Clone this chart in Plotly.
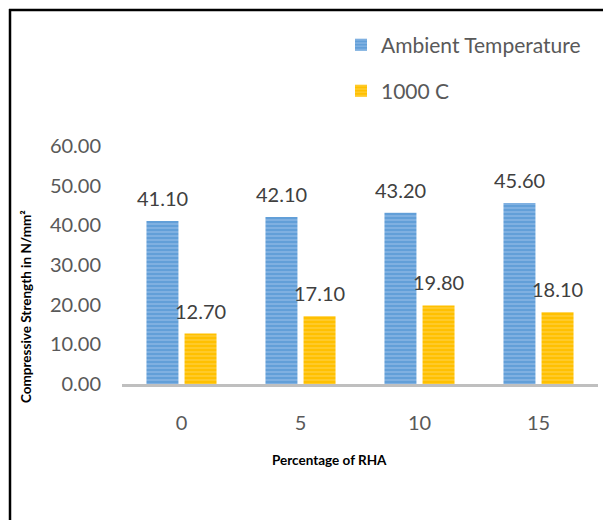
import plotly.graph_objects as go

categories = ["0", "5", "10", "15"]
ambient = [41.10, 42.10, 43.20, 45.60]
heated = [12.70, 17.10, 19.80, 18.10]
series_names = ["Ambient Temperature", "1000 C"]
y_ticks = [0, 10, 20, 30, 40, 50, 60]
y_tick_text = ["0.00", "10.00", "20.00", "30.00", "40.00", "50.00", "60.00"]

W, H = 603, 520
L, R, T, B = 122, 5, 146, 136
pw, ph = W - L - R, H - T - B

def px_x(x):
    return (x - L) / pw

def px_y(y):
    return (H - B - y) / ph

font_main = "Lato, 'Open Sans', sans-serif"
label_font = dict(size=20, color="#404040", family=font_main)

fig = go.Figure()
fig.add_trace(go.Bar(
    x=categories, y=ambient, name=series_names[0],
    marker=dict(color="#6FA6DE", line=dict(width=0),
                pattern=dict(shape="-", fgcolor="#A9CBEE", bgcolor="#629FD8", size=4, solidity=0.4)),
    legend="legend",
))
fig.add_trace(go.Bar(
    x=categories, y=heated, name=series_names[1],
    marker=dict(color="#FFC000", line=dict(width=0),
                pattern=dict(shape="-", fgcolor="#FFD966", bgcolor="#FFC000", size=4, solidity=0.4)),
    legend="legend2",
))

annotations = []
for series, shift in ((ambient, -19), (heated, 19)):
    for i, v in enumerate(series):
        annotations.append(dict(x=i, y=v, text=f"{v:.2f}", showarrow=False,
                                xshift=shift, yshift=9, yanchor="bottom",
                                font=label_font))

annotations += [
    dict(text="<b>Compressive Strength in N/mm²</b>", xref="paper", yref="paper",
         x=px_x(26), y=px_y(307), xanchor="center", yanchor="middle",
         textangle=-90, showarrow=False,
         font=dict(size=13.5, color="black", family=font_main)),
    dict(text="<b>Percentage of RHA</b>", xref="paper", yref="paper",
         x=px_x(329), y=px_y(460), xanchor="center", yanchor="middle", showarrow=False,
         font=dict(size=13.5, color="black", family=font_main)),
]

fig.update_layout(
    width=W, height=H,
    margin=dict(l=L, r=R, t=T, b=B),
    paper_bgcolor="white", plot_bgcolor="white",
    barmode="group", bargap=0.36, bargroupgap=0.16,
    font=dict(family=font_main, color="#595959"),
    showlegend=True,
    legend=dict(x=px_x(341), y=px_y(45), xanchor="left", yanchor="middle",
                font=dict(size=21, color="#595959", family=font_main),
                bgcolor="rgba(0,0,0,0)", itemwidth=30),
    legend2=dict(x=px_x(341), y=px_y(91), xanchor="left", yanchor="middle",
                 font=dict(size=21, color="#595959", family=font_main),
                 bgcolor="rgba(0,0,0,0)", itemwidth=30),
    xaxis=dict(type="category", range=[-0.5, len(categories) - 0.5], showgrid=False,
               showline=True, linecolor="#BFBFBF", linewidth=3,
               ticks="", tickfont=dict(size=20, color="#595959"), ticklabelstandoff=19),
    yaxis=dict(range=[0, 60], tickvals=y_ticks, ticktext=y_tick_text, showgrid=False,
               showline=False, zeroline=False, ticks="",
               tickfont=dict(size=20, color="#595959"), ticklabelstandoff=20),
    annotations=annotations,
    shapes=[
        dict(type="line", xref="paper", yref="paper", x0=px_x(9), x1=px_x(603),
             y0=px_y(10), y1=px_y(10), line=dict(color="black", width=2.5)),
        dict(type="line", xref="paper", yref="paper", x0=px_x(10), x1=px_x(10),
             y0=px_y(9), y1=px_y(520), line=dict(color="black", width=2.5)),
    ],
)

fig.write_html("out.html", config={"displayModeBar": False},
               post_script="document.body.style.margin='0';")
